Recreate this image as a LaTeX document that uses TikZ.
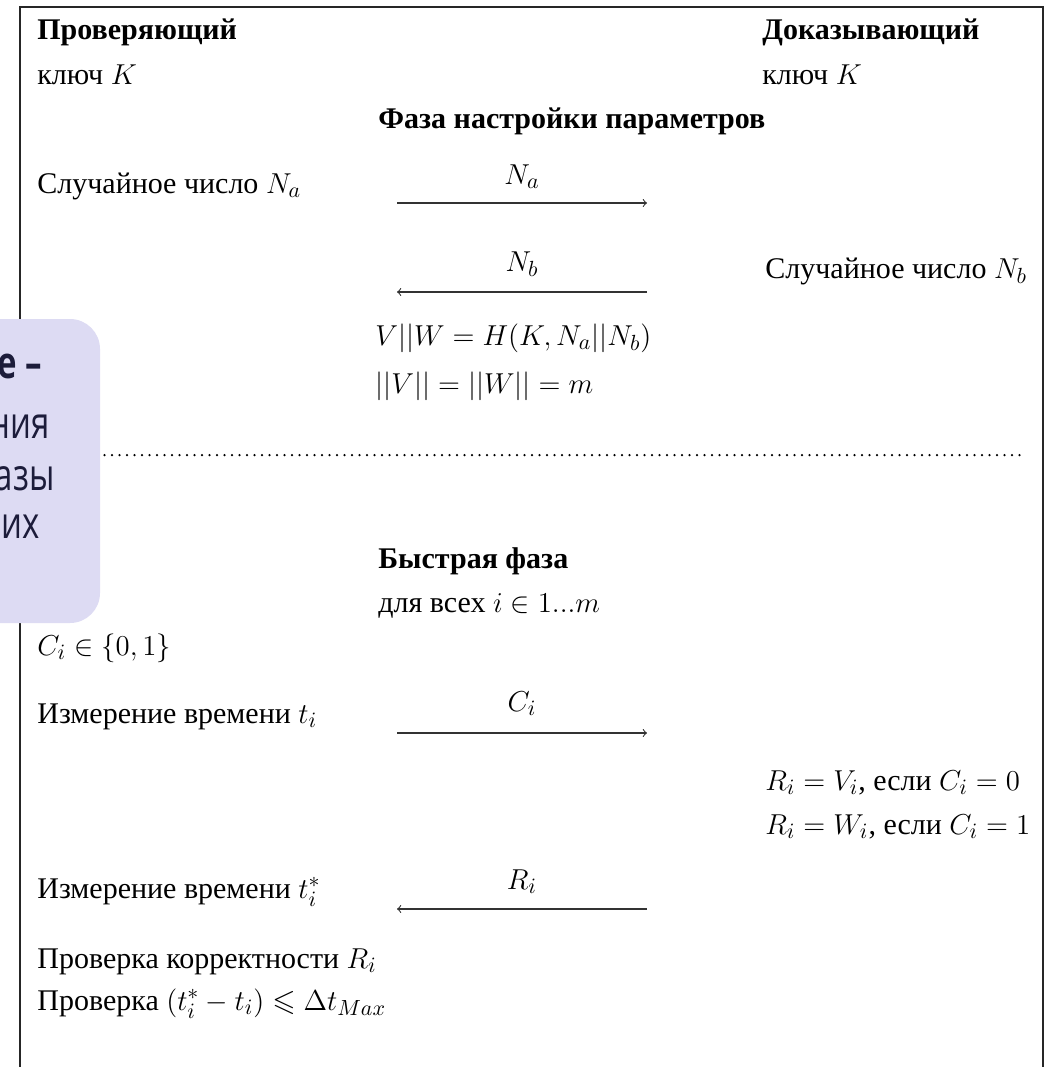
\documentclass[tikz,border=0pt]{standalone}
\usepackage{amsmath,amssymb}
\usepackage{fontspec}
\setmainfont{Liberation Serif}
\newfontfamily\slidefont[FakeStretch=0.75]{Open Sans}
\definecolor{slidebg}{RGB}{221,219,243}
\definecolor{slideink}{RGB}{28,28,58}
\tikzset{
  txt/.style={anchor=base west, inner sep=0pt,
    font=\fontsize{15}{18}\selectfont},
  hdr/.style={txt, font=\fontsize{15}{18}\selectfont\bfseries},
  msg/.style={draw=black!80, line width=0.55pt},
  msglabel/.style={anchor=base, inner sep=0pt,
    font=\fontsize{15}{18}\selectfont},
  phasesep/.style={line width=1.25pt, line cap=round,
    dash pattern=on 0pt off 3.75pt},
  frame/.style={draw=black!85, line width=0.8pt},
  slidebox/.style={fill=slidebg, rounded corners=15pt},
  slidetxt/.style={anchor=base east, inner sep=0pt, text=slideink,
    font=\slidefont\fontsize{22}{26}\selectfont}
}
\begin{document}
\begin{tikzpicture}[x=0.5pt, y=-0.5pt]
  \useasboundingbox (0,0) rectangle (1053,1067);
  %
  % ==================================================================
  % Frame (open at the bottom)
  % ==================================================================
  \coordinate (frameBL) at (20,1067);
  \coordinate (frameTL) at (20,7);
  \coordinate (frameTR) at (1043,7);
  \coordinate (frameBR) at (1043,1067);
  \draw[frame] (frameBL) -- (frameTL) -- (frameTR) -- (frameBR);
  %
  % ==================================================================
  % Parties
  % ==================================================================
  \node[hdr] (verifier) at (37,39)  {Проверяющий};
  \node[txt] (keyV)     at (37,84)  {ключ $K$};
  \node[hdr] (prover)   at (762,39) {Доказывающий};
  \node[txt] (keyP)     at (762,84) {ключ $K$};
  %
  % ==================================================================
  % Setup phase
  % ==================================================================
  \node[hdr] (setup) at (378,128) {Фаза настройки параметров};
  \node[txt] (randA) at (37,193)  {Случайное число $N_a$};
  \node[txt] (randB) at (765,278) {Случайное число $N_b$};
  \coordinate (naL) at (397,203);
  \coordinate (naR) at (647,203);
  \draw[msg, ->] (naL) -- (naR)
    node[msglabel, midway, yshift=9.5pt] (naLbl) {$N_a$};
  \coordinate (nbL) at (397,292);
  \coordinate (nbR) at (647,292);
  \draw[msg, ->] (nbR) -- (nbL)
    node[msglabel, midway, yshift=10.5pt] (nbLbl) {$N_b$};
  \node[txt] (hash)  at (375,345) {$V||W = H(K,N_a||N_b)$};
  \node[txt] (norms) at (375,393) {$||V|| = ||W|| = m$};
  %
  \coordinate (sepL) at (37,455);
  \coordinate (sepR) at (1020,455);
  \draw[phasesep] (sepL) -- (sepR);
  %
  % ==================================================================
  % Fast phase
  % ==================================================================
  \node[hdr] (fast)  at (378,568) {Быстрая фаза};
  \node[txt] (loop)  at (378,612) {для всех $i \in 1...m$};
  \node[txt] (chal)  at (37,655)  {$C_i \in \{0,1\}$};
  \node[txt] (timeA) at (37,723)  {Измерение времени $t_i$};
  \coordinate (ciL) at (397,733);
  \coordinate (ciR) at (647,733);
  \draw[msg, ->] (ciL) -- (ciR)
    node[msglabel, midway, yshift=11pt] (ciLbl) {$C_i$};
  \node[txt] (resp0) at (765,790) {$R_i = V_i$, если $C_i = 0$};
  \node[txt] (resp1) at (765,834) {$R_i = W_i$, если $C_i = 1$};
  \node[txt] (timeB) at (37,898)  {Измерение времени $t_i^*$};
  \coordinate (riL) at (397,909);
  \coordinate (riR) at (647,909);
  \draw[msg, ->] (riR) -- (riL)
    node[msglabel, midway, yshift=10pt] (riLbl) {$R_i$};
  \node[txt] (checkR) at (37,968)  {Проверка корректности $R_i$};
  \node[txt] (checkT) at (37,1010) {Проверка $(t_i^* - t_i) \leqslant \Delta t_{Max}$};
  %
  % ==================================================================
  % Slide callout covering the left edge
  % ==================================================================
  \fill[slidebox] (-60,319) rectangle (100,623);
  \node[slidetxt, font=\slidefont\bfseries\fontsize{22}{26}\selectfont]
                   (call1) at (42,378) {е –};
  \node[slidetxt] (call2) at (50,438) {ния};
  \node[slidetxt] (call3) at (55,490) {азы};
  \node[slidetxt] (call4) at (40,538) {их};
\end{tikzpicture}
\end{document}
